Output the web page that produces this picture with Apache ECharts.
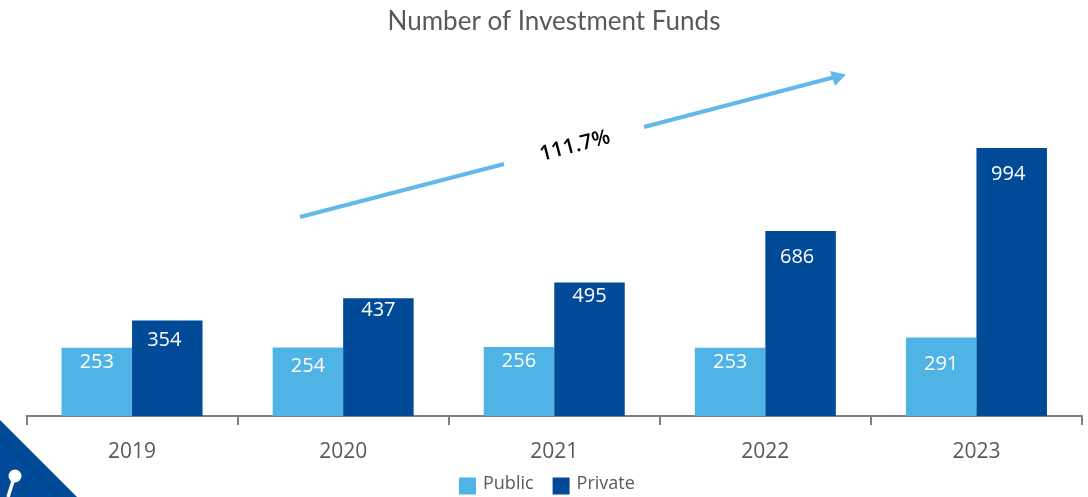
<!DOCTYPE html>
<html><head><meta charset="utf-8">
<style>html,body{margin:0;padding:0;background:#fff}#c{width:1088px;height:497px}</style>
<script src="https://cdn.jsdelivr.net/npm/echarts@6/dist/echarts.min.js"></script>
</head><body><div id="c"></div>
<script>
const categories = ['2019','2020','2021','2022','2023'];
const publicFunds = [253,254,256,253,291];
const privateFunds = [354,437,495,686,994];
const chartTitle = 'Number of Investment Funds';
const growthLabel = '111.7%';

const F = '"Open Sans"';
const publicOffset = [[0,2],[0,6],[0,1],[0,2],[0,14]];
const privateOffset = [[-3,7],[0,-1],[0,1],[-3.5,13],[-3.5,13]];
function items(vals, offsets){
  return vals.map((v,i)=>({value:v,label:{offset:offsets[i]}}));
}
const lbl = {show:true,position:'insideTop',distance:2,color:'#fff',fontFamily:F,fontSize:20,lineHeight:22};
const chart = echarts.init(document.getElementById('c'),null,{renderer:'canvas'});
chart.setOption({
  animation:false,
  title:{text:chartTitle,left:549,top:4,textAlign:'center',textStyle:{fontFamily:'Lato',fontWeight:'normal',fontSize:26,color:'#595959'}},
  legend:{left:459,top:474.5,padding:0,itemWidth:17,itemHeight:17,itemGap:19,icon:'rect',
    formatter:'{t|{name}}',
    textStyle:{fontFamily:F,fontSize:18,color:'#595959',
      rich:{t:{fontFamily:F,fontSize:18,color:'#595959',lineHeight:18,padding:[0,0,5,2]}}},
    data:['Public','Private']},
  grid:{left:26.5,right:6,top:148,bottom:81},
  xAxis:{type:'category',data:categories,
    axisLine:{lineStyle:{color:'#7f7f7f',width:2}},
    axisTick:{show:true,alignWithLabel:false,length:9,lineStyle:{color:'#7f7f7f',width:2}},
    axisLabel:{fontFamily:F,fontSize:21,color:'#595959',margin:26}},
  yAxis:{type:'value',min:0,max:994,show:false,splitLine:{show:false}},
  series:[
    {name:'Public',type:'bar',barWidth:70.5,barGap:'0%',data:items(publicFunds,publicOffset),itemStyle:{color:'#4fb3e6'},label:lbl},
    {name:'Private',type:'bar',barWidth:70.5,data:items(privateFunds,privateOffset),itemStyle:{color:'#004a98'},label:lbl}
  ],
  graphic:[
    {type:'line',shape:{x1:300,y1:217,x2:504,y2:164},style:{stroke:'#62b8e8',lineWidth:4}},
    {type:'line',shape:{x1:644,y1:127,x2:833,y2:77.5},style:{stroke:'#62b8e8',lineWidth:4}},
    {type:'polygon',shape:{points:[[846,74.5],[830,71],[835,86]]},style:{fill:'#62b8e8'}},
    {type:'text',x:575,y:146,rotation:14.7*Math.PI/180,style:{text:growthLabel,x:0,y:0,align:'center',verticalAlign:'middle',fontFamily:F,fontWeight:600,fontSize:21,fill:'#000'}},
    {type:'polygon',shape:{points:[[0,420],[77,497],[0,497]]},style:{fill:'#004a98'}},
    {type:'line',shape:{x1:14,y1:478,x2:8,y2:497},style:{stroke:'#fff',lineWidth:3.5}},
    {type:'circle',shape:{cx:15,cy:476,r:6.5},style:{fill:'#fff'}}
  ]
});
</script></body></html>
